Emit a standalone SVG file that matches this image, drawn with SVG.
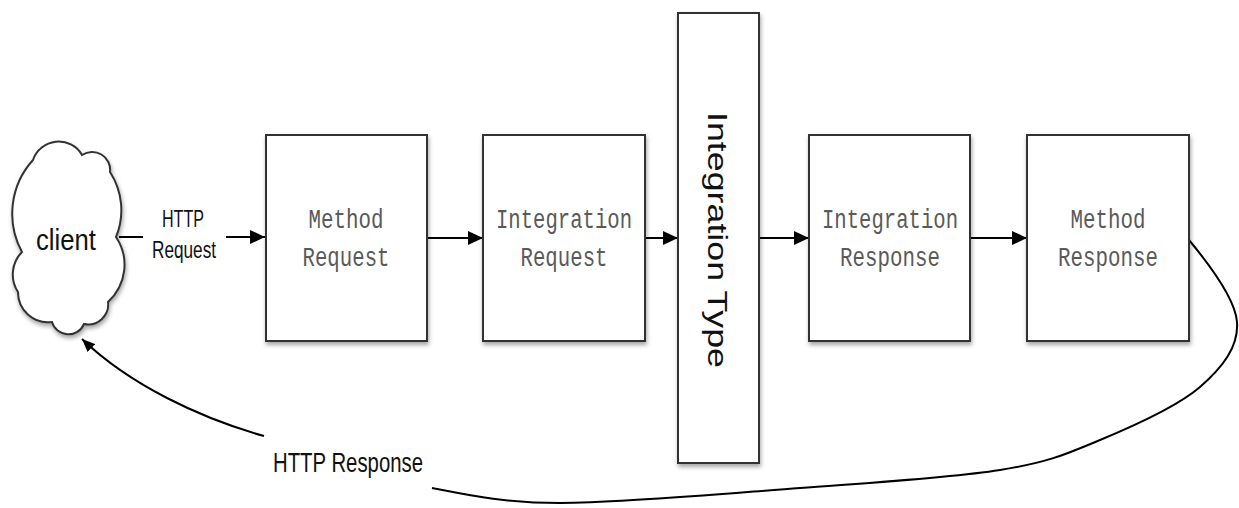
<svg xmlns="http://www.w3.org/2000/svg" width="1239" height="508" viewBox="0 0 1239 508">
  <defs>
    <filter id="shadow" x="-20%" y="-20%" width="140%" height="140%">
      <feDropShadow dx="1" dy="3" stdDeviation="2" flood-color="#000" flood-opacity="0.35"/>
    </filter>
    <marker id="arrow" markerUnits="userSpaceOnUse" markerWidth="15" markerHeight="14" refX="15" refY="7" orient="auto">
      <path d="M0,0 L15,7 L0,14 Z" fill="#000"/>
    </marker>
    <marker id="arrow-sm" markerUnits="userSpaceOnUse" markerWidth="13" markerHeight="11" refX="13" refY="5.5" orient="auto">
      <path d="M0,0 L13,5.5 L0,11 Z" fill="#000"/>
    </marker>
  </defs>
  <style>
    .box { fill: #fff; stroke: #333; stroke-width: 2; }
    .stage { font-family: "Liberation Mono", "Courier New", monospace; font-size: 27px; fill: #5a5a5a; text-anchor: middle; }
    .label { font-family: "Liberation Sans", Arial, sans-serif; fill: #111; text-anchor: middle; }
    .wire { fill: none; stroke: #000; stroke-width: 2; }
  </style>

  <rect width="1239" height="508" fill="#fff"/>

  <!-- connectors -->
  <g id="connectors">
    <line class="wire" x1="119" y1="237" x2="143" y2="237"/>
    <line class="wire" x1="226" y1="237" x2="265" y2="237" marker-end="url(#arrow)"/>
    <line class="wire" x1="427" y1="238" x2="483" y2="238" marker-end="url(#arrow)"/>
    <line class="wire" x1="645" y1="238" x2="678" y2="238" marker-end="url(#arrow)"/>
    <line class="wire" x1="759" y1="238" x2="809" y2="238" marker-end="url(#arrow)"/>
    <line class="wire" x1="970" y1="238" x2="1027" y2="238" marker-end="url(#arrow)"/>
    <!-- return path from Method Response back to the client -->
    <path class="wire" d="M1189 240 C1203.7 257.7 1235.2 297.5 1237 322 C1238.8 346.5 1222.8 367.3 1200 387 C1177.2 406.7 1133.3 426.2 1100 440 C1066.7 453.8 1050 462 1000 470 C950 478 873.3 482.5 800 488 C726.7 493.5 621.3 503 560 503 C498.7 503 460 493.2 432 488"/>
    <path class="wire" d="M264 436 C200 418 130 385 82 339" marker-end="url(#arrow-sm)"/>
  </g>

  <g id="client">
    <path class="box" filter="url(#shadow)" stroke="#111" d="M22 252 A80 80 0 0 1 33 160 A27 27 0 0 1 82 155 A18 18 0 0 1 110 172 A70 70 0 0 1 116 237 A50 50 0 0 1 108 302 A20 20 0 0 1 84 324 A17 17 0 0 1 52 322 A30 30 0 0 1 18 292 A32 32 0 0 1 22 252 Z"/>
    <text class="label" x="66" y="250" font-size="29" textLength="60" lengthAdjust="spacingAndGlyphs">client</text>
  </g>

  <g id="http-request-label">
    <text class="label" x="183" y="227" font-size="24" textLength="42" lengthAdjust="spacingAndGlyphs">HTTP</text>
    <text class="label" x="184" y="258" font-size="24" textLength="64" lengthAdjust="spacingAndGlyphs">Request</text>
  </g>

  <g id="method-request">
    <rect class="box" filter="url(#shadow)" x="266" y="135" width="161" height="206"/>
    <text class="stage" x="346" y="228" textLength="75" lengthAdjust="spacingAndGlyphs">Method</text>
    <text class="stage" x="346" y="266" textLength="87" lengthAdjust="spacingAndGlyphs">Request</text>
  </g>

  <g id="integration-request">
    <rect class="box" filter="url(#shadow)" x="483" y="135" width="162" height="206"/>
    <text class="stage" x="564" y="228" textLength="136" lengthAdjust="spacingAndGlyphs">Integration</text>
    <text class="stage" x="564" y="266" textLength="87" lengthAdjust="spacingAndGlyphs">Request</text>
  </g>

  <g id="integration-type">
    <rect class="box" filter="url(#shadow)" x="678" y="13" width="81" height="450"/>
    <text class="label" transform="translate(708,240) rotate(90)" font-size="27" fill="#000" textLength="256" lengthAdjust="spacingAndGlyphs">Integration Type</text>
  </g>

  <g id="integration-response">
    <rect class="box" filter="url(#shadow)" x="809" y="135" width="161" height="206"/>
    <text class="stage" x="890" y="228" textLength="136" lengthAdjust="spacingAndGlyphs">Integration</text>
    <text class="stage" x="890" y="266" textLength="100" lengthAdjust="spacingAndGlyphs">Response</text>
  </g>

  <g id="method-response">
    <rect class="box" filter="url(#shadow)" x="1027" y="135" width="162" height="206"/>
    <text class="stage" x="1108" y="228" textLength="75" lengthAdjust="spacingAndGlyphs">Method</text>
    <text class="stage" x="1108" y="266" textLength="100" lengthAdjust="spacingAndGlyphs">Response</text>
  </g>

  <g id="http-response-label">
    <text class="label" x="348" y="472" font-size="28" textLength="150" lengthAdjust="spacingAndGlyphs">HTTP Response</text>
  </g>
</svg>
